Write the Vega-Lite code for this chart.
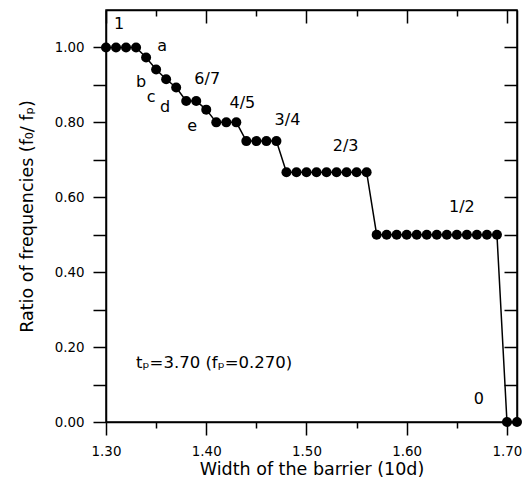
{
  "$schema": "https://vega.github.io/schema/vega-lite/v6.json",
  "width": 411,
  "height": 412,
  "autosize": {"type": "none"},
  "padding": {"left": 106, "top": 10, "right": 5, "bottom": 65},
  "config": {
    "view": {"stroke": "black", "strokeWidth": 1.5},
    "font": "DejaVu Sans",
    "axis": {
      "domainColor": "black", "domainWidth": 1.5, "tickColor": "black", "tickWidth": 1.5,
      "labelColor": "black", "titleColor": "black", "grid": false,
      "labelFont": "DejaVu Sans", "titleFont": "DejaVu Sans",
      "labelFontSize": 13.4, "titleFontSize": 17.5, "titleFontWeight": "normal"
    }
  },
  "datasets": {
    "pts": [
      {"w": 1.30, "r": 1.0}, {"w": 1.31, "r": 1.0}, {"w": 1.32, "r": 1.0}, {"w": 1.33, "r": 1.0},
      {"w": 1.34, "r": 0.973}, {"w": 1.35, "r": 0.941}, {"w": 1.36, "r": 0.915}, {"w": 1.37, "r": 0.893},
      {"w": 1.38, "r": 0.857}, {"w": 1.39, "r": 0.857}, {"w": 1.40, "r": 0.834},
      {"w": 1.41, "r": 0.80}, {"w": 1.42, "r": 0.80}, {"w": 1.43, "r": 0.80},
      {"w": 1.44, "r": 0.75}, {"w": 1.45, "r": 0.75}, {"w": 1.46, "r": 0.75}, {"w": 1.47, "r": 0.75},
      {"w": 1.48, "r": 0.667}, {"w": 1.49, "r": 0.667}, {"w": 1.50, "r": 0.667}, {"w": 1.51, "r": 0.667},
      {"w": 1.52, "r": 0.667}, {"w": 1.53, "r": 0.667}, {"w": 1.54, "r": 0.667}, {"w": 1.55, "r": 0.667},
      {"w": 1.56, "r": 0.667},
      {"w": 1.57, "r": 0.5}, {"w": 1.58, "r": 0.5}, {"w": 1.59, "r": 0.5}, {"w": 1.60, "r": 0.5},
      {"w": 1.61, "r": 0.5}, {"w": 1.62, "r": 0.5}, {"w": 1.63, "r": 0.5}, {"w": 1.64, "r": 0.5},
      {"w": 1.65, "r": 0.5}, {"w": 1.66, "r": 0.5}, {"w": 1.67, "r": 0.5}, {"w": 1.68, "r": 0.5},
      {"w": 1.69, "r": 0.5},
      {"w": 1.70, "r": 0.0}, {"w": 1.71, "r": 0.0}
    ],
    "labels": [
      {"w": 1.313, "r": 1.062, "t": "1"},
      {"w": 1.356, "r": 1.004, "t": "a"},
      {"w": 1.335, "r": 0.907, "t": "b"},
      {"w": 1.345, "r": 0.867, "t": "c"},
      {"w": 1.359, "r": 0.840, "t": "d"},
      {"w": 1.386, "r": 0.791, "t": "e"},
      {"w": 1.401, "r": 0.916, "t": "6/7"},
      {"w": 1.436, "r": 0.853, "t": "4/5"},
      {"w": 1.481, "r": 0.805, "t": "3/4"},
      {"w": 1.539, "r": 0.738, "t": "2/3"},
      {"w": 1.655, "r": 0.575, "t": "1/2"},
      {"w": 1.672, "r": 0.062, "t": "0"}
    ],
    "note": [
      {"w": 1.33, "r": 0.157, "t": "tₚ=3.70 (fₚ=0.270)"}
    ]
  },
  "resolve": {"axis": {"x": "independent", "y": "independent"}},
  "layer": [
    {
      "data": {"name": "pts"},
      "mark": {"type": "line", "color": "black", "strokeWidth": 1.5},
      "encoding": {
        "x": {"field": "w", "type": "quantitative",
              "scale": {"domain": [1.3, 1.71], "nice": false, "zero": false},
              "axis": {"orient": "bottom", "title": "Width of the barrier (10d)",
                       "values": [1.3, 1.4, 1.5, 1.6, 1.7], "format": ".2f",
                       "tickSize": 13, "labelPadding": 9, "titlePadding": 3, "labelFlush": false}},
        "y": {"field": "r", "type": "quantitative",
              "scale": {"domain": [0, 1.1], "nice": false},
              "axis": {"orient": "left", "title": "Ratio of frequencies (f₀/ fₚ)",
                       "values": [0, 0.1, 0.2, 0.3, 0.4, 0.5, 0.6, 0.7, 0.8, 0.9, 1.0],
                       "format": ".2f", "labelExpr": "(round(datum.value*10) % 2 == 0) ? datum.label : ''",
                       "tickSize": 13, "labelPadding": 9, "titlePadding": 18, "labelFlush": false}}
      }
    },
    {
      "data": {"name": "pts"},
      "mark": {"type": "point", "filled": true, "color": "black", "size": 100, "opacity": 1},
      "encoding": {
        "x": {"field": "w", "type": "quantitative",
              "scale": {"domain": [1.3, 1.71], "nice": false, "zero": false},
              "axis": {"orient": "bottom", "title": null, "values": [1.35, 1.45, 1.55, 1.65],
                       "labels": false, "domain": false, "tickSize": 6}},
        "y": {"field": "r", "type": "quantitative",
              "scale": {"domain": [0, 1.1], "nice": false},
              "axis": {"orient": "right", "title": null,
                       "values": [0, 0.1, 0.2, 0.3, 0.4, 0.5, 0.6, 0.7, 0.8, 0.9, 1.0],
                       "labels": false, "tickSize": -13}}
      }
    },
    {
      "data": {"name": "labels"},
      "mark": {"type": "text", "color": "black", "fontSize": 16, "font": "DejaVu Sans", "align": "center", "baseline": "middle"},
      "encoding": {
        "x": {"field": "w", "type": "quantitative",
              "scale": {"domain": [1.3, 1.71], "nice": false, "zero": false},
              "axis": {"orient": "top", "title": null, "values": [1.3, 1.4, 1.5, 1.6, 1.7],
                       "labels": false, "tickSize": -13}},
        "y": {"field": "r", "type": "quantitative",
              "scale": {"domain": [0, 1.1], "nice": false}, "axis": null},
        "text": {"field": "t", "type": "nominal"}
      }
    },
    {
      "data": {"name": "note"},
      "mark": {"type": "text", "color": "black", "fontSize": 16.5, "font": "DejaVu Sans", "align": "left", "baseline": "middle"},
      "encoding": {
        "x": {"field": "w", "type": "quantitative",
              "scale": {"domain": [1.3, 1.71], "nice": false, "zero": false},
              "axis": {"orient": "top", "title": null, "values": [1.35, 1.45, 1.55, 1.65],
                       "labels": false, "domain": false, "tickSize": -6}},
        "y": {"field": "r", "type": "quantitative",
              "scale": {"domain": [0, 1.1], "nice": false}, "axis": null},
        "text": {"field": "t", "type": "nominal"}
      }
    }
  ]
}
